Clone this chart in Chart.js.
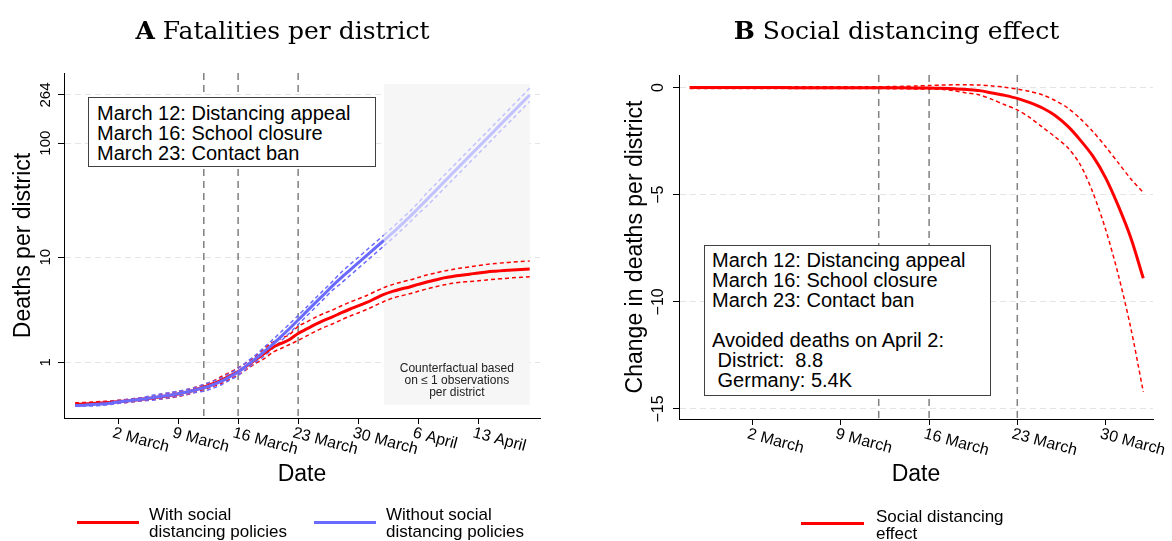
<!DOCTYPE html>
<html>
<head>
<meta charset="utf-8">
<script src="https://cdn.jsdelivr.net/npm/chart.js@4.4.1/dist/chart.umd.min.js"></script>
<style>
  html, body { margin: 0; padding: 0; background: #fff; }
  body { width: 1172px; height: 541px; position: relative; overflow: hidden;
         font-family: "Liberation Sans", Arial, sans-serif; color: #000; }
  canvas { position: absolute; top: 0; }
  #leftChart { left: 0; }
  #rightChart { left: 586px; }
  .title { position: absolute; top: 16px; text-align: center; white-space: nowrap;
           font-family: "DejaVu Serif", serif; font-size: 25px; line-height: 30px; }
  .note { position: absolute; box-sizing: border-box; background: #fff; border: 1px solid #404040;
          font-size: 20px; line-height: 20px; white-space: pre; }
  .lg-line { position: absolute; height: 3px; }
  .lg-text { position: absolute; font-size: 17px; line-height: 17px; white-space: nowrap; }
</style>
</head>
<body>
<canvas id="leftChart" width="586" height="541"></canvas>
<canvas id="rightChart" width="586" height="541"></canvas>

<div class="title" style="left:0;width:565px"><b>A</b> Fatalities per district</div>
<div class="title" style="left:586px;width:621px"><b>B</b> Social distancing effect</div>

<div class="note" style="left:88px;top:97px;width:288px;height:70px;padding:5px 8px">March 12: Distancing appeal
March 16: School closure
March 23: Contact ban</div>

<div class="note" style="left:704px;top:245px;width:287px;height:151px;padding:4px 7px">March 12: Distancing appeal
March 16: School closure
March 23: Contact ban

Avoided deaths on April 2:
 District:  8.8
 Germany: 5.4K</div>

<div class="lg-line" style="left:77px;top:521px;width:62px;background:#ff0000"></div>
<div class="lg-text" style="left:149px;top:506px">With social<br>distancing policies</div>
<div class="lg-line" style="left:314px;top:521px;width:62px;background:#6a6aff"></div>
<div class="lg-text" style="left:386px;top:506px">Without social<br>distancing policies</div>
<div class="lg-line" style="left:801px;top:522px;width:63px;background:#ff0000"></div>
<div class="lg-text" style="left:876px;top:508px">Social distancing<br>effect</div>

<script>
// Days are counted from 2 March 2020 (day 0). Panel A runs 26 Feb - 19 Apr, panel B 26 Feb - 2 Apr.
const firstDay = -5;

// Panel A: deaths per district, with and without policies (mean, upper and lower band)
const withPolicy = [0.034, 0.040, 0.048, 0.059, 0.071, 0.085, 0.101, 0.119, 0.140, 0.162,
  0.187, 0.213, 0.244, 0.282, 0.333, 0.388, 0.458, 0.542, 0.642, 0.754,
  0.898, 1.069, 1.254, 1.473, 1.621, 1.780, 2.041, 2.256, 2.489, 2.714,
  2.925, 3.184, 3.442, 3.687, 3.967, 4.31, 4.68, 4.98, 5.24, 5.46,
  5.75, 6.05, 6.30, 6.57, 6.77, 6.93, 7.09, 7.27, 7.42, 7.53,
  7.63, 7.73, 7.81, 7.88];
const withPolicyHi = [0.064, 0.070, 0.078, 0.089, 0.101, 0.115, 0.131, 0.149, 0.170, 0.192,
  0.238, 0.265, 0.296, 0.335, 0.386, 0.443, 0.514, 0.623, 0.729, 0.844,
  0.994, 1.172, 1.419, 1.660, 1.821, 1.995, 2.383, 2.628, 2.894, 3.150,
  3.391, 3.687, 3.983, 4.265, 4.586, 4.98, 5.39, 5.73, 6.03, 6.29,
  6.62, 6.97, 7.25, 7.57, 7.80, 8.02, 8.22, 8.45, 8.65, 8.80,
  8.94, 9.06, 9.17, 9.26];
const withPolicyLo = [0.004, 0.010, 0.018, 0.029, 0.041, 0.055, 0.071, 0.089, 0.109, 0.125,
  0.140, 0.162, 0.193, 0.230, 0.280, 0.335, 0.403, 0.463, 0.561, 0.667,
  0.806, 0.966, 1.096, 1.300, 1.437, 1.583, 1.739, 1.929, 2.134, 2.331,
  2.516, 2.743, 2.969, 3.183, 3.428, 3.727, 4.05, 4.33, 4.55, 4.74,
  4.99, 5.25, 5.47, 5.70, 5.88, 6.02, 6.10, 6.19, 6.31, 6.41,
  6.49, 6.58, 6.65, 6.71];
const withoutPolicy = [0.010, 0.014, 0.028, 0.040, 0.057, 0.081, 0.101, 0.121, 0.142, 0.166,
  0.193, 0.217, 0.248, 0.286, 0.328, 0.375, 0.436, 0.514, 0.619, 0.740,
  0.912, 1.095, 1.32, 1.58, 1.90, 2.28, 2.74, 3.29, 3.93, 4.68,
  5.58, 6.57, 7.66, 8.91, 10.37, 12.07, 14.05, 16.35, 19.2, 22.6,
  26.9, 32.0, 38.2, 45.6, 54.4, 64.8, 77.3, 92.1, 109.7, 130.8,
  156.1, 186.0, 221.8, 264];
const withoutPolicyHi = [0.030, 0.044, 0.058, 0.070, 0.087, 0.111, 0.131, 0.151, 0.172, 0.217,
  0.244, 0.269, 0.301, 0.339, 0.382, 0.452, 0.514, 0.595, 0.704, 0.830,
  1.008, 1.204, 1.47, 1.76, 2.11, 2.52, 3.02, 3.61, 4.31, 5.14,
  6.11, 7.34, 8.56, 9.95, 11.58, 13.48, 15.69, 18.26, 21.4, 25.2,
  30.0, 36.5, 43.5, 52.0, 62.0, 73.9, 88.1, 105, 125, 149,
  178, 212, 253, 303];
const withoutPolicyLo = [0.000, 0.000, 0.000, 0.010, 0.027, 0.051, 0.071, 0.091, 0.111, 0.115,
  0.141, 0.166, 0.197, 0.234, 0.276, 0.301, 0.360, 0.436, 0.538, 0.654,
  0.818, 0.994, 1.17, 1.42, 1.72, 2.06, 2.49, 2.99, 3.57, 4.27,
  5.10, 5.88, 6.86, 7.98, 9.28, 10.81, 12.58, 14.64, 17.2, 20.2,
  24.1, 28.1, 33.5, 40.0, 47.7, 56.8, 67.8, 80.8, 96.2, 115,
  137, 163, 195, 231];

// Panel B: change in deaths per district (effect, upper and lower band)
const effect = [0.01, 0.01, 0.01, 0.01, 0.01, 0.01, 0.01, 0.01, 0, 0,
  0, 0, 0, 0, 0, -0.01, -0.01, -0.01, -0.02, -0.02,
  -0.03, -0.05, -0.09, -0.14, -0.25, -0.36, -0.5, -0.7, -0.95, -1.3,
  -1.8, -2.45, -3.2, -4.2, -5.5, -7.0, -8.9];
const effectHi = [0.04, 0.04, 0.04, 0.04, 0.04, 0.04, 0.04, 0.04, 0.04, 0.04,
  0.04, 0.04, 0.04, 0.04, 0.04, 0.04, 0.05, 0.06, 0.08, 0.1,
  0.12, 0.13, 0.13, 0.12, 0.08, 0.02, -0.07, -0.18, -0.34, -0.6,
  -0.95, -1.45, -2.05, -2.75, -3.5, -4.25, -4.9];
const effectLo = [-0.04, -0.04, -0.04, -0.04, -0.04, -0.04, -0.04, -0.04, -0.04, -0.04,
  -0.04, -0.04, -0.04, -0.04, -0.04, -0.04, -0.05, -0.05, -0.06, -0.06,
  -0.08, -0.15, -0.25, -0.34, -0.55, -0.8, -1.04, -1.4, -1.85, -2.3,
  -2.8, -3.6, -4.9, -6.6, -8.7, -11.2, -14.2];

// Axis ticks
const leftXTicks = [0, 7, 14, 21, 28, 35, 42];
const leftXLabels = ['2 March', '9 March', '16 March', '23 March', '30 March', '6 April', '13 April'];
const leftYTicks = [1, 10, 100, 264];
const rightXTicks = [0, 7, 14, 21, 28];
const rightXLabels = ['2 March', '9 March', '16 March', '23 March', '30 March'];
const rightYTicks = [0, -5, -10, -15];

// Policy dates (12, 16 and 23 March) and start of the counterfactual-only stretch (2 April)
const policyDays = [10, 14, 21];
const counterfactualFrom = 31;

const RED = '#ff0000';
const BLUE = '#6a6aff';
const BLUE_LIGHT = '#c2c2ff';
const FONT = '"Liberation Sans", Arial, sans-serif';

function points(values, transform) {
  return values.map((v, i) => ({ x: firstDay + i, y: transform ? transform(v) : v }));
}

function line(values, color, opts = {}) {
  return Object.assign({
    data: points(values, opts.transform),
    borderColor: color,
    borderWidth: opts.dashed ? 1.5 : 3,
    borderDash: opts.dashed ? [4, 3] : [],
    pointRadius: 0,
    tension: 0.3,
    fill: false,
  }, opts.extra || {});
}

function fadeAfter(day, color) {
  return { borderColor: c => (c.p0.parsed.x >= day ? color : undefined) };
}

// draws event lines, shaded area, rotated tick labels and axis titles
const stataDecor = {
  id: 'stataDecor',
  beforeDatasetsDraw(chart, args, o) {
    const { ctx, chartArea: a, scales: { x, y } } = chart;
    ctx.save();
    if (o.shade) {
      const x0 = x.getPixelForValue(o.shade.from), x1 = x.getPixelForValue(o.shade.to);
      const y0 = y.getPixelForValue(o.shade.top), y1 = y.getPixelForValue(o.shade.bottom);
      ctx.fillStyle = '#f6f6f6';
      ctx.fillRect(x0, y0, x1 - x0, y1 - y0);
      ctx.fillStyle = '#222';
      ctx.font = '12px ' + FONT;
      ctx.textAlign = 'center';
      ctx.textBaseline = 'middle';
      o.shade.text.forEach((t, i, arr) => {
        ctx.fillText(t, (x0 + x1) / 2, y1 - 12 * (arr.length - i));
      });
    }
    ctx.strokeStyle = '#808080';
    ctx.lineWidth = 1.5;
    ctx.setLineDash([7, 5]);
    o.events.forEach(d => {
      const px = x.getPixelForValue(d);
      ctx.beginPath();
      ctx.moveTo(px, a.top);
      ctx.lineTo(px, a.bottom);
      ctx.stroke();
    });
    ctx.restore();
  },
  afterDraw(chart, args, o) {
    const { ctx, chartArea: a, scales: { x, y } } = chart;
    ctx.save();
    ctx.fillStyle = '#000';

    ctx.font = o.xTickFont + 'px ' + FONT;
    ctx.textAlign = 'left';
    ctx.textBaseline = 'top';
    x.ticks.forEach((t, i) => {
      ctx.save();
      ctx.translate(x.getPixelForValue(t.value) - 3, a.bottom + 7);
      ctx.rotate(15 * Math.PI / 180);
      ctx.fillText(o.xLabels[i], 0, 0);
      ctx.restore();
    });

    ctx.font = o.yTickFont + 'px ' + FONT;
    ctx.textAlign = 'center';
    ctx.textBaseline = 'alphabetic';
    y.ticks.forEach((t, i) => {
      ctx.save();
      ctx.translate(a.left - o.yTickGap, y.getPixelForValue(t.value));
      ctx.rotate(-Math.PI / 2);
      ctx.fillText(o.yLabels[i], 0, 0);
      ctx.restore();
    });

    ctx.font = '23px ' + FONT;
    ctx.save();
    ctx.translate(o.yTitleX, (a.top + a.bottom) / 2);
    ctx.rotate(-Math.PI / 2);
    ctx.fillText(o.yTitle, 0, 0);
    ctx.restore();
    ctx.fillText('Date', (a.left + a.right) / 2, 481);
    ctx.restore();
  }
};

function axisX(min, max, ticks, height) {
  return {
    type: 'linear', min, max,
    afterBuildTicks: s => { s.ticks = ticks.map(v => ({ value: v })); },
    afterFit: s => { s.height = height; },
    ticks: { display: false },
    grid: { drawOnChartArea: false, color: '#000', tickLength: 6 },
    border: { color: '#000', width: 1 },
  };
}

function axisY(min, max, tickValues, width) {
  return {
    type: 'linear', min, max,
    afterBuildTicks: s => { s.ticks = tickValues.map(v => ({ value: v })); },
    afterFit: s => { s.width = width; },
    ticks: { display: false },
    grid: { color: '#e4e4e4', lineWidth: 1, tickLength: 6, tickColor: '#000' },
    border: { color: '#000', width: 1, dash: [6, 4] },
  };
}

const commonOptions = {
  responsive: false,
  animation: false,
  devicePixelRatio: 1,
  events: [],
};

// Panel A, drawn on an asinh scale
const asinh = v => Math.asinh(v);

new Chart(document.getElementById('leftChart'), {
  type: 'line',
  data: {
    datasets: [
      line(withoutPolicy, BLUE, { transform: asinh, extra: { order: 0, segment: fadeAfter(counterfactualFrom, BLUE_LIGHT) } }),
      line(withoutPolicyHi, BLUE, { transform: asinh, dashed: true, extra: { order: 2, segment: fadeAfter(counterfactualFrom, BLUE_LIGHT) } }),
      line(withoutPolicyLo, BLUE, { transform: asinh, dashed: true, extra: { order: 2, segment: fadeAfter(counterfactualFrom, BLUE_LIGHT) } }),
      line(withPolicy, RED, { transform: asinh, extra: { order: 1 } }),
      line(withPolicyHi, RED, { transform: asinh, dashed: true, extra: { order: 3 } }),
      line(withPolicyLo, RED, { transform: asinh, dashed: true, extra: { order: 3 } }),
    ]
  },
  options: Object.assign({}, commonOptions, {
    layout: { padding: { top: 73, right: 46, left: 0, bottom: 0 } },
    scales: {
      x: axisX(-6.3, 49.2, leftXTicks, 123),
      y: axisY(asinh(-0.245), asinh(411), leftYTicks.map(asinh), 64),
    },
    plugins: {
      legend: { display: false },
      tooltip: { enabled: false },
      stataDecor: {
        events: policyDays,
        shade: { from: counterfactualFrom, to: 48, top: asinh(330), bottom: asinh(0.02),
                 text: ['Counterfactual based', 'on \u2264 1 observations', 'per district'] },
        xLabels: leftXLabels, xTickFont: 16,
        yLabels: leftYTicks.map(String), yTickFont: 15, yTickGap: 14,
        yTitle: 'Deaths per district', yTitleX: 30,
      }
    }
  }),
  plugins: [stataDecor]
});

// Panel B
new Chart(document.getElementById('rightChart'), {
  type: 'line',
  data: {
    datasets: [
      line(effect, RED, { extra: { order: 0 } }),
      line(effectHi, RED, { dashed: true, extra: { order: 1 } }),
      line(effectLo, RED, { dashed: true, extra: { order: 1 } }),
    ]
  },
  options: Object.assign({}, commonOptions, {
    layout: { padding: { top: 75, right: 19, left: 0, bottom: 0 } },
    scales: {
      x: axisX(-5.85, 31.77, rightXTicks, 122),
      y: axisY(-15.47, 0.59, rightYTicks, 93),
    },
    plugins: {
      legend: { display: false },
      tooltip: { enabled: false },
      stataDecor: {
        events: policyDays,
        xLabels: rightXLabels, xTickFont: 16,
        yLabels: rightYTicks.map(v => String(v).replace('-', '\u2212')), yTickFont: 16, yTickGap: 16,
        yTitle: 'Change in deaths per district', yTitleX: 55.5,
      }
    }
  }),
  plugins: [stataDecor]
});
</script>
</body>
</html>
